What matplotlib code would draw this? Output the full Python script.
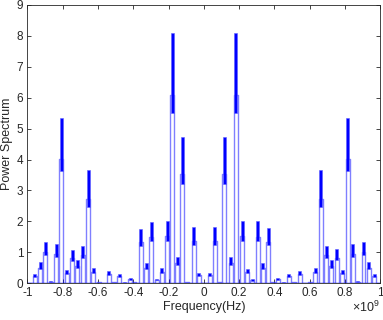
import numpy as np
import matplotlib
matplotlib.use('Agg')
import matplotlib.pyplot as plt

plt.rcParams['font.family'] = ['Liberation Sans', 'DejaVu Sans']
plt.rcParams['axes.unicode_minus'] = False
plt.rcParams['mathtext.fontset'] = 'custom'
plt.rcParams['mathtext.rm'] = 'Liberation Sans'

# ---------------------------------------------------------------
# Spectral lobes (frequency in units of 1e9 Hz).
# ---------------------------------------------------------------
centers = [-0.959, -0.928, -0.899, -0.868, -0.838, -0.808, -0.777, -0.747,
           -0.717, -0.687, -0.656, -0.626, -0.596, -0.566, -0.539, -0.507,
           -0.479, -0.450, -0.418, -0.394, -0.357, -0.326, -0.297, -0.267,
           -0.237, -0.207, -0.178, -0.151, -0.123, -0.095, -0.057, -0.027,
           0.034, 0.062, 0.092, 0.117, 0.153, 0.181, 0.219, 0.247,
           0.276, 0.306, 0.335, 0.365, 0.392, 0.421, 0.454, 0.482,
           0.514, 0.545, 0.575, 0.603, 0.633, 0.664, 0.694, 0.724,
           0.755, 0.785, 0.817, 0.845, 0.874, 0.906, 0.936, 0.966]
heights = [0.30, 0.68, 1.34, 0.06, 1.26, 5.35, 0.43, 1.07,
           0.75, 1.21, 3.65, 0.50, 0.04, 0.02, 0.40, 0.05,
           0.30, 0.03, 0.18, 0.05, 1.77, 0.66, 1.99, 0.14,
           0.48, 2.02, 8.10, 0.86, 4.72, 0.04, 1.83, 0.34,
           0.34, 1.83, 0.05, 4.72, 0.86, 8.10, 2.02, 0.47,
           0.13, 2.00, 0.66, 1.80, 0.05, 0.18, 0.03, 0.30,
           0.05, 0.40, 0.01, 0.04, 0.50, 3.65, 1.21, 0.75,
           1.10, 0.43, 5.35, 1.26, 0.06, 1.34, 0.68, 0.30]

xticks = [-1, -0.8, -0.6, -0.4, -0.2, 0, 0.2, 0.4, 0.6, 0.8, 1]
xticklabels = ['-1', '-0.8', '-0.6', '-0.4', '-0.2', '0', '0.2', '0.4', '0.6', '0.8', '1']
yticks = list(range(10))

half_w = 0.011   # half width of one lobe
band_w = 0.017   # width of the dense top of a lobe

# outline trace: baseline at 0 with each lobe rising from it
xs = [-1.0]
ys = [0.0]
for c, h in zip(centers, heights):
    xs += [c - half_w, c - half_w, c + half_w, c + half_w]
    ys += [0.0, 0.75 * h, 0.75 * h, 0.0]
xs.append(1.0)
ys.append(0.0)

fig = plt.figure(figsize=(3.83, 3.2), dpi=100)
ax = fig.add_axes([0.0718, 0.1147, 0.9204, 0.8700])

ax.plot(xs, ys, color='#0000ff', lw=1.0, alpha=0.5, zorder=2)
ax.plot([-1, 1], [0, 0], color='#0000ff', lw=1.0, zorder=2)
h_arr = np.array(heights)
ax.bar(centers, 0.32 * h_arr, bottom=0.68 * h_arr, width=band_w,
       color='#0000ff', edgecolor='#6060ff', lw=0.4, zorder=3)

ax.set_xlim(-1, 1)
ax.set_ylim(0, 9)
ax.set_xticks(xticks)
ax.set_xticklabels(xticklabels)
ax.set_yticks(yticks)
ax.tick_params(direction='in', length=3, width=0.6, labelsize=8.5,
               top=True, right=True, colors='#262626', pad=3)
for s in ax.spines.values():
    s.set_linewidth(0.6)
    s.set_color('#262626')

ax.set_xlabel('Frequency(Hz)', fontsize=9, color='#262626', labelpad=1)
ax.set_ylabel('Power Spectrum', fontsize=9, color='#262626', labelpad=3)
ax.text(1.0, -0.103, r'$\times10^{9}$', transform=ax.transAxes,
        ha='right', va='baseline', fontsize=9, color='#262626')

fig.savefig('out.png', dpi=100)
plt.close()
